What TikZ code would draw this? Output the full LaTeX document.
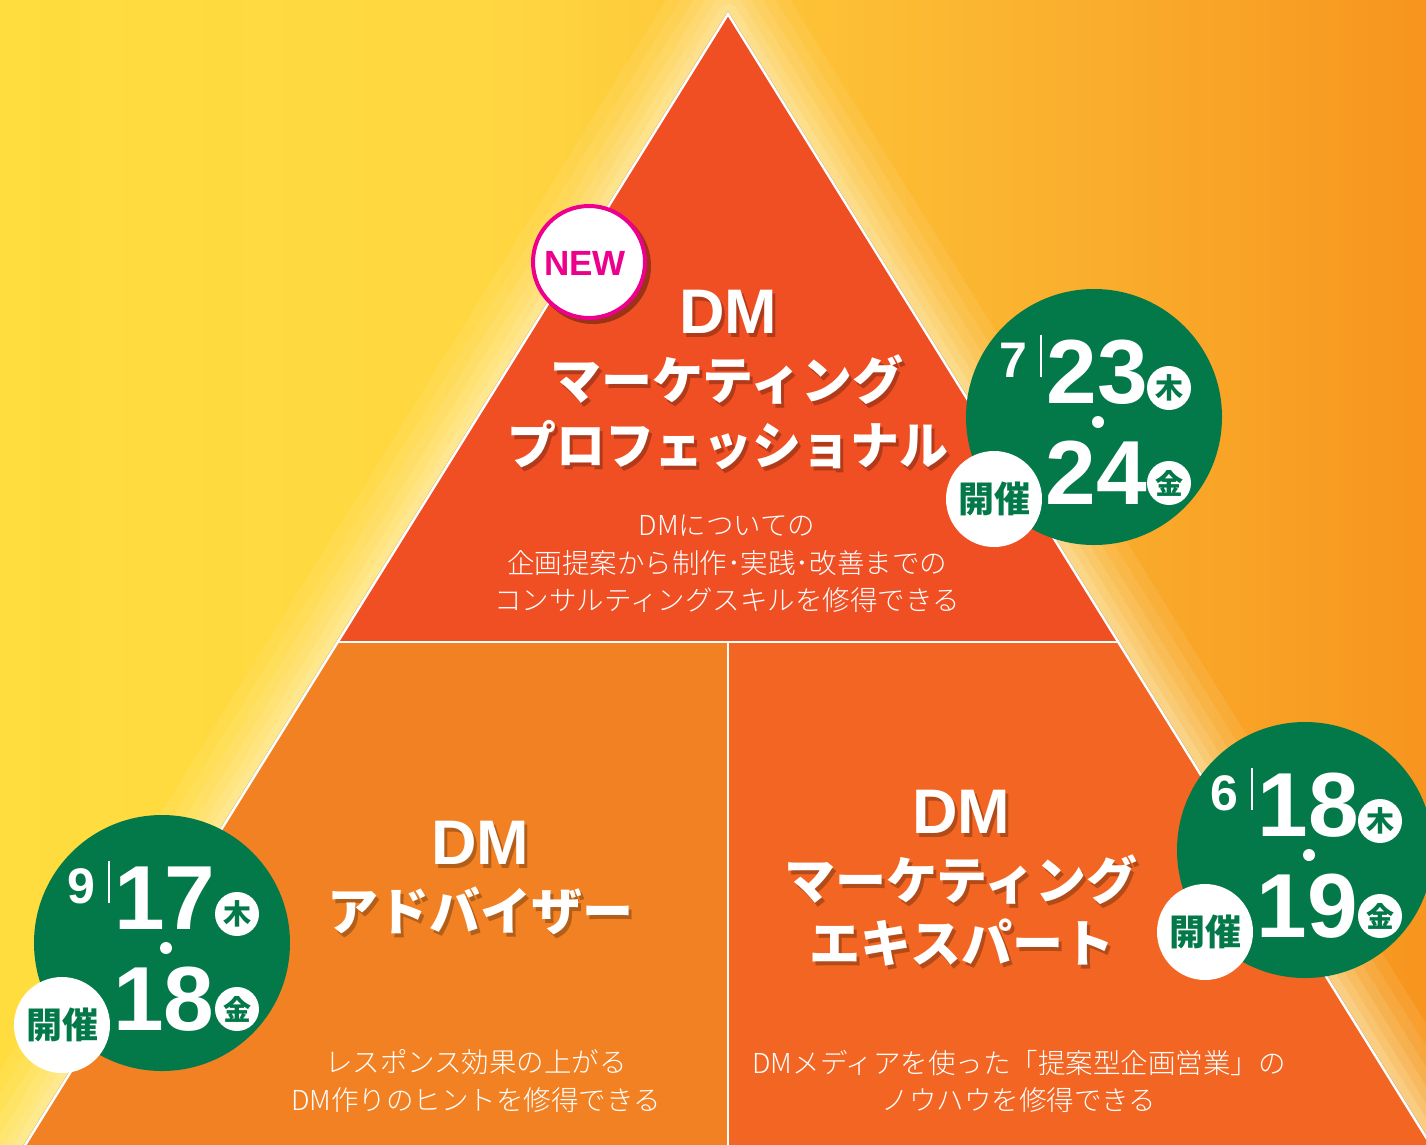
\documentclass[tikz,border=0pt]{standalone}
\usepackage{fontspec}
\setmainfont{Liberation Sans}
\newfontfamily\jp{Noto Sans CJK JP}
\IfFontExistsTF{Noto Sans CJK JP Light}{\newfontfamily\jpl{Noto Sans CJK JP Light}}{\newfontfamily\jpl{Noto Sans CJK JP}}
\usetikzlibrary{calc}
\definecolor{topc}{HTML}{F04E23}
\definecolor{blc}{HTML}{F28123}
\definecolor{brc}{HTML}{F26522}
\definecolor{grn}{HTML}{03794A}
\definecolor{mag}{HTML}{EC008C}
\definecolor{cream}{HTML}{FFF4C8}
\definecolor{bgA}{HTML}{FFDD3E}
\definecolor{bgB}{HTML}{FFD741}
\definecolor{bgC}{HTML}{FDC237}
\definecolor{bgD}{HTML}{FAAE2D}
\definecolor{bgE}{HTML}{F7951E}
\pgfdeclarehorizontalshading{bgshade}{100bp}{color(0bp)=(bgA); color(25bp)=(bgA); color(42bp)=(bgB); color(53bp)=(bgC); color(63bp)=(bgD); color(75bp)=(bgE); color(100bp)=(bgE)}
\newcommand\dmfont{\bfseries\fontsize{63}{63}\selectfont}
\newcommand\katafont{\jp\bfseries\fontsize{51}{51}\selectfont}
\newcommand\subfont{\jpl\fontsize{27.5}{37}\selectfont}
% text with a soft drop shadow, in one box
\newcommand\shtxt[2]{%
  \makebox[0pt][l]{\hspace{3pt}\raisebox{-4pt}{\color{#1!74!black}#2}}%
  #2}
\newcommand\ttl[5]{%
  \node[ttlw] (#1) at (#2,#3) {\shtxt{#4}{#5}};}
\newcommand\datec[6]{%
  \fill[grn] (#2,#3) circle[radius=128];
  \node[month] (#1m) at (#2-81,#3-40) {#4};
  \draw[white, line width=1.2] (#2-53,#3-82) -- (#2-53,#3-40);
  \node[bigd] (#1a) at (#2+3,#3-13.5) {#5};
  \fill[white] (#2+4,#3+5) circle[radius=6];
  \node[bigd] (#1b) at (#2+2,#3+87.5) {#6};
  \node[dayc] (#1w) at (#2+75,#3-29) {木};
  \node[dayc] (#1f) at (#2+75,#3+66) {金};
  \node[kaisai] (#1k) at (#2-100,#3+82) {開催};}
\begin{document}
\begin{tikzpicture}[x=1pt,y=-1pt,
  ttlw/.style={text=white, inner sep=0, anchor=base},
  sub/.style={text=white, inner sep=0, anchor=base, font=\subfont},
  month/.style={text=white, inner sep=0, anchor=base, font=\bfseries\fontsize{50}{50}\selectfont},
  bigd/.style={text=white, inner sep=0, anchor=base, font=\bfseries\fontsize{91}{91}\selectfont},
  dayc/.style={circle, fill=white, minimum size=44, inner sep=0, text=grn, font=\jp\bfseries\fontsize{28}{28}\selectfont},
  kaisai/.style={circle, fill=white, minimum size=96, inner sep=0, text=grn, font=\jp\bfseries\fontsize{36}{36}\selectfont},
  glow/.style={cream, line join=round}]
\useasboundingbox (0,0) rectangle (1426,1144);
\clip (0,0) rectangle (1426,1144);
% background
\shade[shading=bgshade] (0,0) rectangle (1426,1144);
% triangle geometry
\coordinate (A) at (728,14);
\coordinate (L) at (338,642);
\coordinate (R) at (1118,642);
\coordinate (M) at (728,642);
\coordinate (Mb) at (728,1200);
\coordinate (BL) at (-9,1200);
\coordinate (BR) at (1465,1200);
% glow
\foreach \w/\o in {120/.10,96/.10,74/.12,54/.14,36/.16,20/.2}{
  \draw[glow, line width=\w, opacity=\o] (A) -- (BL) -- (BR) -- cycle;}
% shadow of border
\draw[black, opacity=.3, line width=3, shift={(2.5,2)}] (BL) -- (A) -- (BR);
% sections
\fill[topc] (A) -- (L) -- (R) -- cycle;
\fill[blc] (L) -- (M) -- (Mb) -- (BL) -- cycle;
\fill[brc] (M) -- (R) -- (BR) -- (Mb) -- cycle;
\draw[white, line width=2.5, line join=miter] (BL) -- (A) -- (BR);
\draw[white, line width=2.5] (L) -- (R);
\draw[white, line width=2.5] (M) -- (Mb);
% top titles
\ttl{t1}{728}{333}{topc}{\dmfont DM}
\ttl{t2}{727}{399}{topc}{\katafont マーケティング}
\ttl{t3}{728}{464}{topc}{\katafont\scalebox{0.96}[1]{プロフェッショナル}}
\node[sub] (s1) at (727,535) {DMについての};
\node[sub] (s2) at (727,573) {企画提案から制作･実践･改善までの};
\node[sub] (s3) at (727,610) {コンサルティングスキルを修得できる};
% bottom-left titles
\ttl{l1}{480}{864}{blc}{\dmfont DM}
\ttl{l2}{480}{930}{blc}{\katafont アドバイザー}
\node[sub] (ls1) at (476,1072) {レスポンス効果の上がる};
\node[sub] (ls2) at (476,1110) {DM作りのヒントを修得できる};
% bottom-right titles
\ttl{r1}{961}{833}{brc}{\dmfont DM}
\ttl{r2}{961}{899}{brc}{\katafont マーケティング}
\ttl{r3}{962}{962}{brc}{\katafont エキスパート}
\node[sub] (rs1) at (1019,1073) {DMメディアを使った「提案型企画営業」の};
\node[sub] (rs2) at (1019,1110) {ノウハウを修得できる};
% NEW badge
\fill[black, opacity=.35] (593,266) circle[radius=58];
\node[circle, fill=white, draw=mag, line width=4, minimum size=112, inner sep=0] (newc) at (589,262) {};
\node[text=mag, anchor=base, inner sep=0, font=\bfseries\fontsize{35}{35}\selectfont] (newt) at (585,275) {NEW};
% date circles
\datec{c1}{1094}{417}{7}{23}{24}
\datec{c2}{1305}{850}{6}{18}{19}
\datec{c3}{162}{943}{9}{17}{18}
\end{tikzpicture}
\end{document}
